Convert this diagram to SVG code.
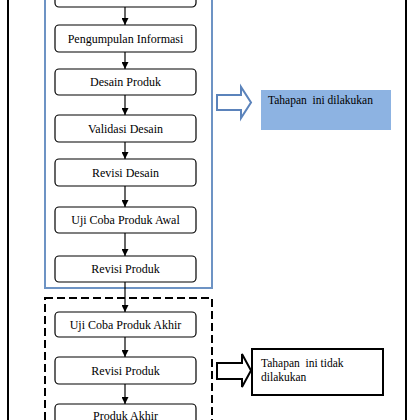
<svg xmlns="http://www.w3.org/2000/svg" width="420" height="420" viewBox="0 0 420 420">
<style>
.box{fill:#fff;stroke:#000;stroke-width:1.2}
text{font-family:'Liberation Serif','Times New Roman',serif;fill:#000}
.t{font-size:12px;text-anchor:middle}
.n{font-size:11.5px}
.c{stroke:#000;stroke-width:1.2;fill:none}
</style>
<defs>
<marker id="ah" viewBox="0 0 10 10" refX="10" refY="5" markerWidth="7" markerHeight="7" markerUnits="userSpaceOnUse" orient="auto">
<path d="M0,0 L10,5 L0,10 z" fill="#000"/>
</marker>
</defs>
<rect width="420" height="420" fill="#fff"/>
<g id="frames">
<line x1="8" y1="-5" x2="8" y2="425" stroke="#000" stroke-width="2"/>
<line x1="406" y1="-5" x2="406" y2="425" stroke="#000" stroke-width="2"/>
<rect x="45" y="-10" width="167" height="298" fill="none" stroke="#6d93c4" stroke-width="2"/>
<rect x="45" y="298" width="167" height="140" fill="none" stroke="#000" stroke-width="2" stroke-dasharray="8,4"/>
</g>
<g id="connectors">
<line class="c" x1="125" y1="7" x2="125" y2="25" marker-end="url(#ah)"/>
<line class="c" x1="125" y1="52" x2="125" y2="69" marker-end="url(#ah)"/>
<line class="c" x1="125" y1="95" x2="125" y2="115" marker-end="url(#ah)"/>
<line class="c" x1="125" y1="142" x2="125" y2="159" marker-end="url(#ah)"/>
<line class="c" x1="125" y1="186" x2="125" y2="207" marker-end="url(#ah)"/>
<line class="c" x1="125" y1="233" x2="125" y2="256" marker-end="url(#ah)"/>
<line class="c" x1="125" y1="282" x2="125" y2="312" marker-end="url(#ah)"/>
<line class="c" x1="125" y1="337" x2="125" y2="357" marker-end="url(#ah)"/>
<line class="c" x1="125" y1="384" x2="125" y2="404" marker-end="url(#ah)"/>
</g>
<g id="n0"><rect class="box" x="55" y="-20" width="141" height="27" rx="4"/></g>
<g id="n1"><rect class="box" x="55" y="25" width="141" height="27" rx="4"/><text class="t" x="125.5" y="42.5" font-family="Liberation Serif, serif">Pengumpulan  Informasi</text></g>
<g id="n2"><rect class="box" x="55" y="69" width="141" height="26" rx="4"/><text class="t" x="125.5" y="86">Desain Produk</text></g>
<g id="n3"><rect class="box" x="55" y="115" width="141" height="27" rx="4"/><text class="t" x="125.5" y="132.5">Validasi  Desain</text></g>
<g id="n4"><rect class="box" x="55" y="159" width="141" height="27" rx="4"/><text class="t" x="125.5" y="176.5">Revisi Desain</text></g>
<g id="n5"><rect class="box" x="55" y="207" width="141" height="26" rx="4"/><text class="t" x="125.5" y="224">Uji Coba Produk Awal</text></g>
<g id="n6"><rect class="box" x="55" y="256" width="141" height="26" rx="4"/><text class="t" x="125.5" y="273">Revisi Produk</text></g>
<g id="n7"><rect class="box" x="55" y="312" width="141" height="25" rx="4"/><text class="t" x="125.5" y="328.5">Uji Coba Produk Akhir</text></g>
<g id="n8"><rect class="box" x="55" y="357" width="141" height="27" rx="4"/><text class="t" x="125.5" y="374.5">Revisi Produk</text></g>
<g id="n9"><rect class="box" x="55" y="404" width="141" height="27" rx="4"/><text class="t" x="125.5" y="419.5">Produk Akhir</text></g>
<g id="legend1">
<path d="M217,95 H241 V87 L251,102.5 L241,118 V110 H217 Z" fill="#fff" stroke="#5b83bb" stroke-width="2" stroke-linejoin="miter"/>
<rect x="261" y="90" width="130" height="40" fill="#8db3e2"/>
<text class="n" x="268" y="103.5" xml:space="preserve">Tahapan  ini dilakukan</text>
</g>
<g id="legend2">
<path d="M217,363 H242 V354 L251,370.5 L242,387 V379 H217 Z" fill="#fff" stroke="#000" stroke-width="2"/>
<rect x="252" y="349" width="131" height="46" fill="#fff" stroke="#000" stroke-width="2"/>
<text class="n" x="261" y="367" xml:space="preserve">Tahapan  ini tidak</text>
<text class="n" x="261" y="381">dilakukan</text>
</g>
</svg>
